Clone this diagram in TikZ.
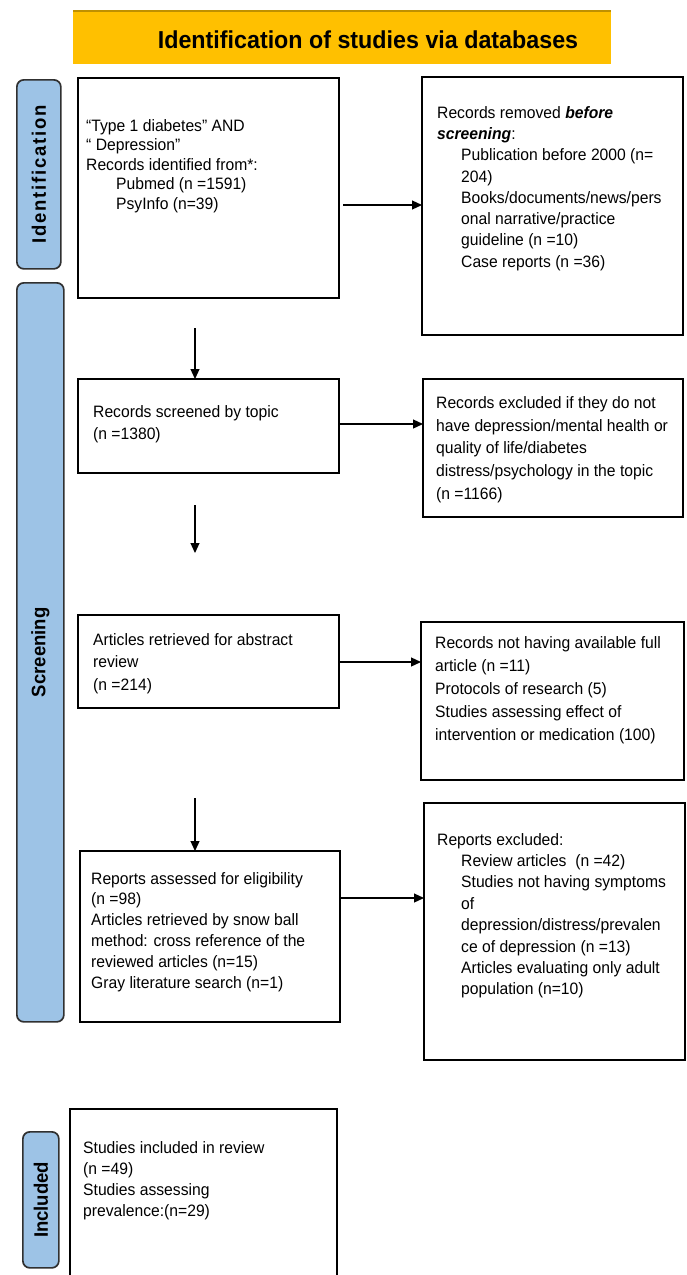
\documentclass[tikz,border=0pt]{standalone}
\usepackage{fontspec}
\setmainfont{Liberation Sans}[FakeStretch=0.95]
\usetikzlibrary{arrows.meta}
\definecolor{hdr}{HTML}{FFC000}
\definecolor{hdrline}{HTML}{BF9000}
\definecolor{sidefill}{HTML}{9DC3E6}
\definecolor{sidedraw}{HTML}{303030}
\tikzset{
  box/.style={draw=black, line width=1.4pt, fill=white, inner sep=0pt, outer sep=0pt, anchor=north west},
  txt/.style={anchor=north west, align=left, inner sep=0pt, font=\fontsize{16.5}{#1}\selectfont},
  txt/.default=21,
  side/.style={draw=sidedraw, fill=sidefill, line width=1.7pt, rounded corners=7pt, inner sep=0pt, anchor=north west},
  sidetxt/.style={rotate=90, inner sep=0pt, font=\fontsize{19.5}{22}\selectfont\bfseries},
  arr/.style={-{Triangle[length=10pt,width=9pt]}, line width=1.2pt}
}
\begin{document}
\begin{tikzpicture}[x=1pt,y=-1pt]
\useasboundingbox (0,0) rectangle (687,1275);
\clip (0,0) rectangle (687,1275);
% header
\node[fill=hdr, inner sep=0pt, anchor=north west, minimum width=538pt, minimum height=53pt] (hdr) at (73,11) {};
\draw[hdrline, line width=2pt] (hdr.north west) -- (hdr.north east);
\node[font=\fontsize{24.5}{27}\selectfont\bfseries] (title) at (368,40) {Identification of studies via databases};
% side labels
\node[side, minimum width=44pt, minimum height=189pt] (sId) at (16,79) {};
\node[sidetxt] (sIdT) at (sId.center) {\addfontfeature{LetterSpace=9}Identification};
\node[side, minimum width=47pt, minimum height=739pt] (sSc) at (16,282) {};
\node[sidetxt] (sScT) at (sSc.center) {Screening};
\node[side, minimum width=36pt, minimum height=136pt] (sIn) at (22,1131) {};
\node[sidetxt] (sInT) at (sIn.center) {Included};
% left boxes
\node[box, minimum width=261pt, minimum height=220pt] (L1) at (78,78) {};
\node[box, minimum width=261pt, minimum height=94pt] (L2) at (78,379) {};
\node[box, minimum width=261pt, minimum height=93pt] (L3) at (78,615) {};
\node[box, minimum width=260pt, minimum height=171pt] (L4) at (80,851) {};
\node[box, minimum width=267pt, minimum height=190pt] (L5) at (70,1109) {};
% right boxes
\node[box, minimum width=261pt, minimum height=258pt] (R1) at (422,77) {};
\node[box, minimum width=260pt, minimum height=138pt] (R2) at (423,379) {};
\node[box, minimum width=263pt, minimum height=158pt] (R3) at (421,622) {};
\node[box, minimum width=261pt, minimum height=257pt] (R4) at (424,803) {};
% texts
\node[txt=19.5] (tL1) at (86,119)
 {“Type 1 diabetes” AND\\“ Depression”\\Records identified from*:\\\hspace*{30pt}Pubmed (n =1591)\\\hspace*{30pt}PsyInfo (n=39)};
\node[txt=21.3] (tR1) at (437,106)
 {Records removed \textbf{\textit{before}}\\\textbf{\textit{screening}}:\\\hspace*{24pt}Publication before 2000 (n=\\\hspace*{24pt}204)\\\hspace*{24pt}Books/documents/news/pers\\\hspace*{24pt}onal narrative/practice\\\hspace*{24pt}guideline (n =10)\\\hspace*{24pt}Case reports (n =36)};
\node[txt=22] (tL2) at (93,405) {Records screened by topic\\(n =1380)};
\node[txt=22.9] (tR2) at (436,396)
 {Records excluded if they do not\\have depression/mental health or\\quality of life/diabetes\\distress/psychology in the topic\\(n =1166)};
\node[txt=22.5] (tL3) at (93,633) {Articles retrieved for abstract\\review\\(n =214)};
\node[txt=23] (tR3) at (435,636)
 {Records not having available full\\article (n =11)\\Protocols of research (5)\\Studies assessing effect of\\intervention or medication (100)};
\node[txt=20.8] (tL4) at (91,872)
 {Reports assessed for eligibility\\(n =98)\\Articles retrieved by snow ball\\method: cross reference of the\\reviewed articles (n=15)\\Gray literature search (n=1)};
\node[txt=21.4] (tR4) at (437,833)
 {Reports excluded:\\\hspace*{24pt}Review articles\ \ (n =42)\\\hspace*{24pt}Studies not having symptoms\\\hspace*{24pt}of\\\hspace*{24pt}depression/distress/prevalen\\\hspace*{24pt}ce of depression (n =13)\\\hspace*{24pt}Articles evaluating only adult\\\hspace*{24pt}population (n=10)};
\node[txt=21] (tL5) at (83,1141)
 {Studies included in review\\(n =49)\\Studies assessing\\prevalence:(n=29)};
% arrows
\coordinate (h1s) at (343,205);
\draw[arr] (h1s) -- (h1s -| R1.west);
\coordinate (h2s) at (339,424);
\draw[arr] (h2s) -- (h2s -| R2.west);
\coordinate (h3s) at (339,662);
\draw[arr] (h3s) -- (h3s -| R3.west);
\coordinate (h4s) at (340,898);
\draw[arr] (h4s) -- (h4s -| R4.west);
\coordinate (v1s) at (195,328);
\draw[arr] (v1s) -- (v1s |- L2.north);
\coordinate (v2s) at (195,505);
\coordinate (v2e) at (195,553);
\draw[arr] (v2s) -- (v2e);
\coordinate (v3s) at (195,798);
\draw[arr] (v3s) -- (v3s |- L4.north);
\end{tikzpicture}
\end{document}
